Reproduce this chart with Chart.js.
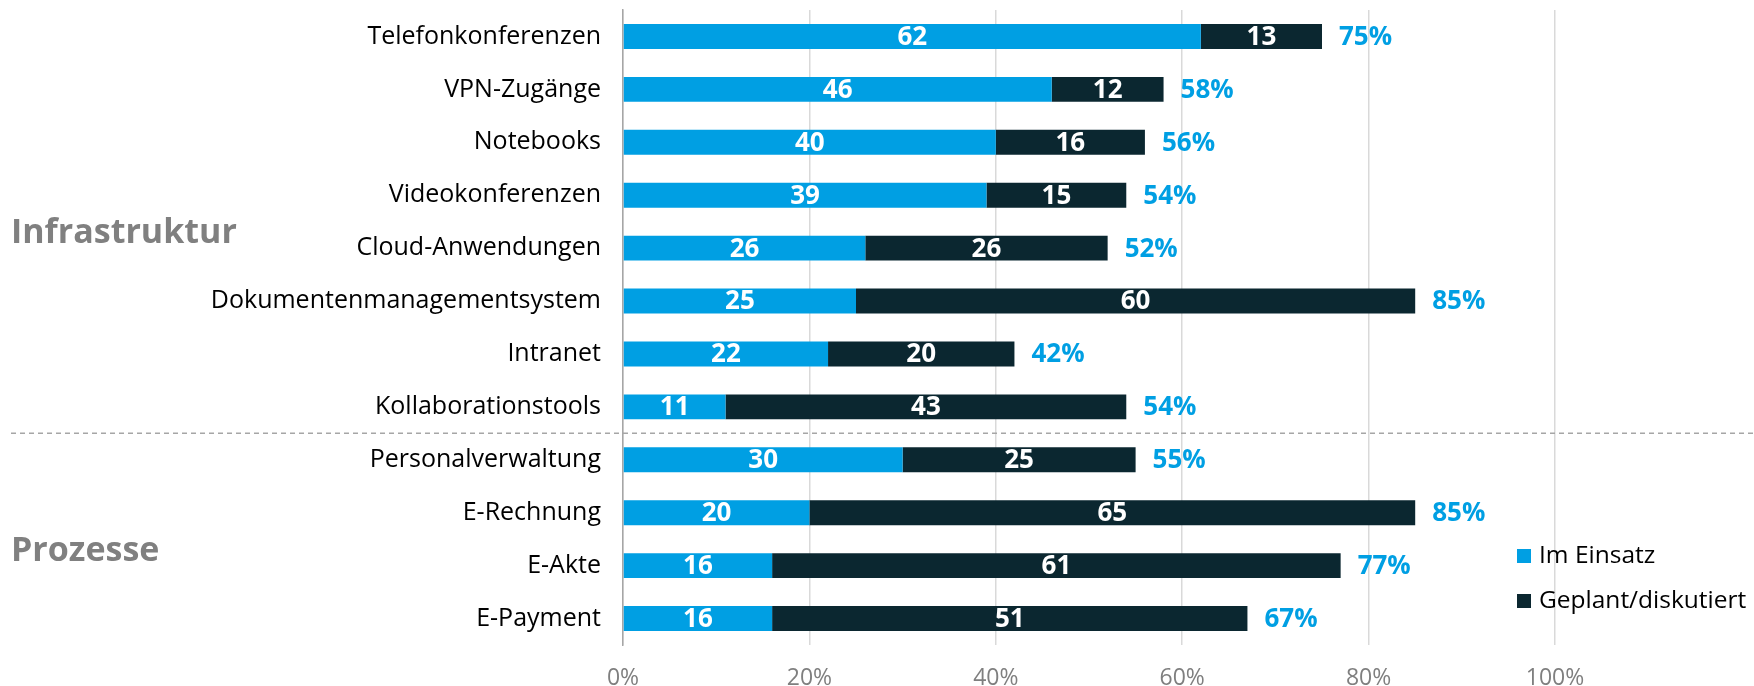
<!DOCTYPE html>
<html>
<head>
<meta charset="utf-8">
<script src="https://cdn.jsdelivr.net/npm/chart.js@4.4.0/dist/chart.umd.min.js"></script>
<style>
html, body { margin: 0; padding: 0; background: #fff; }
#wrap { width: 1754px; height: 686px; }
</style>
</head>
<body>
<div id="wrap"><canvas id="myChart"></canvas></div>
<script>
const categories = ['Telefonkonferenzen', 'VPN-Zugänge', 'Notebooks', 'Videokonferenzen',
    'Cloud-Anwendungen', 'Dokumentenmanagementsystem', 'Intranet', 'Kollaborationstools',
    'Personalverwaltung', 'E-Rechnung', 'E-Akte', 'E-Payment'];
const imEinsatz = [62, 46, 40, 39, 26, 25, 22, 11, 30, 20, 16, 16];
const geplant = [13, 12, 16, 15, 26, 60, 20, 43, 25, 65, 61, 51];
const totals = [75, 58, 56, 54, 52, 85, 42, 54, 55, 85, 77, 67];
const seriesNames = ['Im Einsatz', 'Geplant/diskutiert'];
const groupNames = ['Infrastruktur', 'Prozesse'];
const groupRows = [[0, 7], [8, 11]];

const FONT = '"Open Sans", sans-serif';
const BLUE = '#009fe3';
const DARK = '#0b2730';

// labels inside the bars and totals behind them
const barLabels = {
    id: 'barLabels',
    afterDatasetsDraw(chart) {
        const ctx = chart.ctx;
        ctx.save();
        ctx.textBaseline = 'middle';
        ctx.font = 'bold 26px ' + FONT;
        chart.data.datasets.forEach((ds, di) => {
            const meta = chart.getDatasetMeta(di);
            meta.data.forEach((bar, i) => {
                ctx.fillStyle = '#fff';
                ctx.textAlign = 'center';
                ctx.fillText(ds.data[i], (bar.x + bar.base) / 2, bar.y + 1);
            });
        });
        const last = chart.getDatasetMeta(chart.data.datasets.length - 1);
        last.data.forEach((bar, i) => {
            ctx.fillStyle = BLUE;
            ctx.textAlign = 'left';
            ctx.fillText(totals[i] + '%', bar.x + 17, bar.y + 1);
        });
        ctx.restore();
    }
};

// group titles, separator and legend
const extras = {
    id: 'extras',
    afterDraw(chart) {
        const ctx = chart.ctx;
        const y = chart.scales.y;
        ctx.save();

        const sepY = (y.getPixelForValue(groupRows[0][1]) + y.getPixelForValue(groupRows[1][0])) / 2;
        ctx.strokeStyle = '#a6a6a6';
        ctx.lineWidth = 1.5;
        ctx.setLineDash([5, 4]);
        ctx.beginPath();
        ctx.moveTo(11, sepY);
        ctx.lineTo(chart.width, sepY);
        ctx.stroke();
        ctx.setLineDash([]);

        ctx.font = 'bold 34px ' + FONT;
        ctx.fillStyle = '#808080';
        ctx.textAlign = 'left';
        ctx.textBaseline = 'middle';
        groupNames.forEach((g, k) => {
            const mid = (y.getPixelForValue(groupRows[k][0]) + y.getPixelForValue(groupRows[k][1])) / 2;
            ctx.fillText(g, 11, mid + 12);
        });

        ctx.font = '24.5px ' + FONT;
        chart.data.datasets.forEach((ds, i) => {
            const cy = 556 + i * 45;
            ctx.fillStyle = ds.backgroundColor;
            ctx.fillRect(1517, cy - 7, 14, 14);
            ctx.fillStyle = '#000';
            ctx.fillText(ds.label, 1539, cy);
        });
        ctx.restore();
    }
};

new Chart(document.getElementById('myChart'), {
    type: 'bar',
    data: {
        labels: categories,
        datasets: [
            { label: seriesNames[0], data: imEinsatz, backgroundColor: BLUE,
              barPercentage: 0.47, categoryPercentage: 1 },
            { label: seriesNames[1], data: geplant, backgroundColor: DARK,
              barPercentage: 0.47, categoryPercentage: 1 }
        ]
    },
    options: {
        indexAxis: 'y',
        responsive: true,
        maintainAspectRatio: false,
        animation: false,
        layout: { padding: { top: 10, right: 199, left: 0, bottom: 0 } },
        plugins: { legend: { display: false }, tooltip: { enabled: false } },
        scales: {
            x: {
                stacked: true,
                min: 0,
                max: 100,
                grid: { color: '#d9d9d9', lineWidth: 1.5, drawTicks: false },
                border: { display: false },
                ticks: {
                    stepSize: 20,
                    padding: 20,
                    color: '#7f7f7f',
                    font: { family: FONT, size: 23 },
                    callback: v => v + '%'
                },
                afterFit: s => { s.height = 41; }
            },
            y: {
                stacked: true,
                grid: { color: 'rgba(0,0,0,0)', drawTicks: false },
                border: { color: '#a6a6a6', width: 1.5 },
                ticks: { padding: 22, color: '#000', font: { family: FONT, size: 25 } },
                afterFit: s => { s.width = 623; s.paddingTop = 0; s.paddingBottom = 0; }
            }
        }
    },
    plugins: [barLabels, extras]
});
</script>
</body>
</html>
